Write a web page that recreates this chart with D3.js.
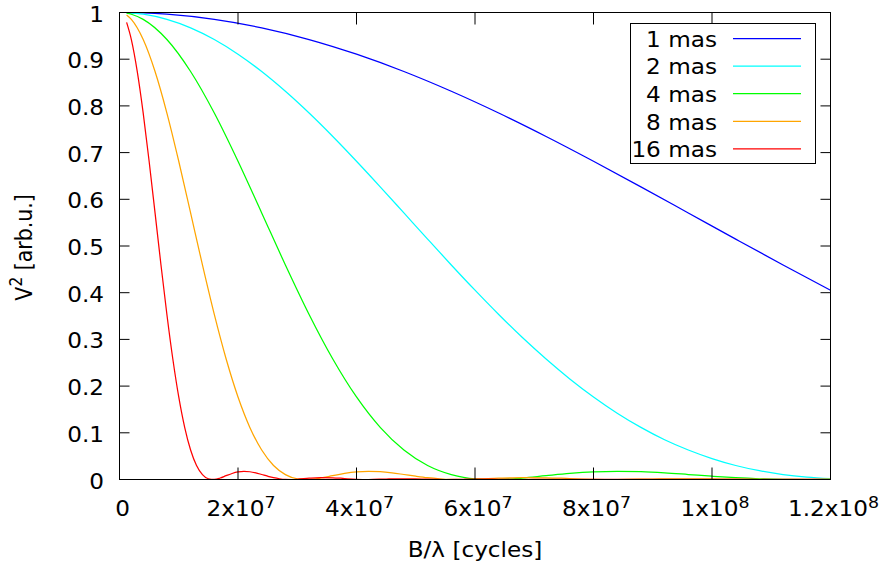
<!DOCTYPE html>
<html>
<head>
<meta charset="utf-8">
<script src="https://cdn.jsdelivr.net/npm/d3@7"></script>
<style>
  body { margin: 0; background: #fff; }
  text { font-family: "DejaVu Sans", sans-serif; fill: #000; }
</style>
</head>
<body>
<div id="chart"></div>
<script>
// Squared visibility vs baseline, uniform disks of different diameter
// baselines are in cycles (B/lambda), values are V^2 read off the plot

const seriesNames = ["1 mas", "2 mas", "4 mas", "8 mas", "16 mas"];

const blue1mas_B = [1.2e6, 4e6, 8e6, 16e6, 24e6, 32e6, 40e6, 48e6, 56e6, 64e6, 72e6, 80e6, 88e6, 96e6, 104e6, 112e6, 120e6];
const blue1mas_V2 = [0.9999, 0.9991, 0.9963, 0.9852, 0.9671, 0.9421, 0.9107, 0.8736, 0.8313, 0.7847, 0.7345, 0.6815, 0.6267, 0.5708, 0.5148, 0.4594, 0.4054];

const cyan2mas_B = [1.2e6, 4e6, 8e6, 12e6, 16e6, 20e6, 24e6, 28e6, 32e6, 36e6, 40e6, 44e6, 48e6, 52e6, 56e6, 60e6,
  64e6, 68e6, 72e6, 76e6, 80e6, 84e6, 88e6, 92e6, 96e6, 100e6, 104e6, 108e6, 112e6, 116e6, 120e6];
const cyan2mas_V2 = [0.9997, 0.9963, 0.9852, 0.9671, 0.9421, 0.9107, 0.8736, 0.8313, 0.7847, 0.7345, 0.6815, 0.6267, 0.5708, 0.5148, 0.4594, 0.4054,
  0.3534, 0.3039, 0.2580, 0.2154, 0.1767, 0.1420, 0.1116, 0.0851, 0.0631, 0.0448, 0.0300, 0.0188, 0.0105, 0.0050, 0.0016];

const green4mas_B = [1.2e6, 2e6, 4e6, 8e6, 12e6, 16e6, 20e6, 24e6, 28e6, 32e6, 36e6, 40e6, 44e6, 48e6, 52e6, 56e6, 60e6,
  64e6, 68e6, 72e6, 76e6, 80e6, 84e6, 88e6, 92e6, 96e6, 100e6, 104e6, 108e6, 112e6, 116e6, 120e6];
const green4mas_V2 = [0.9987, 0.9963, 0.9852, 0.9421, 0.8736, 0.7847, 0.6815, 0.5708, 0.4594, 0.3534, 0.2580, 0.1767, 0.1116, 0.0631, 0.0300, 0.0105, 0.0016,
  0.0002, 0.0032, 0.0082, 0.0129, 0.0161, 0.0173, 0.0166, 0.0142, 0.0107, 0.0071, 0.0039, 0.0016, 0.0003, 0.0000, 0.0005];

const orange8mas_B = [1.2e6, 2e6, 4e6, 6e6, 8e6, 10e6, 12e6, 14e6, 16e6, 18e6, 20e6, 22e6, 24e6, 26e6, 28e6, 30e6,
  32e6, 34e6, 36e6, 38e6, 40e6, 42e6, 44e6, 46e6, 48e6, 50e6, 52e6, 54e6, 56e6, 58e6, 60e6,
  64e6, 68e6, 72e6, 76e6, 80e6, 84e6, 90e6, 96e6, 102e6, 110e6, 116e6, 120e6];
const orange8mas_V2 = [0.9947, 0.9852, 0.9421, 0.8736, 0.7847, 0.6815, 0.5708, 0.4594, 0.3534, 0.2580, 0.1767, 0.1116, 0.0631, 0.0300, 0.0105, 0.0016,
  0.0002, 0.0032, 0.0082, 0.0129, 0.0161, 0.0173, 0.0166, 0.0142, 0.0107, 0.0071, 0.0039, 0.0016, 0.0003, 0.0000, 0.0005,
  0.0027, 0.0040, 0.0037, 0.0020, 0.0005, 0.0000, 0.0010, 0.0016, 0.0008, 0.0000, 0.0005, 0.0007];

const red16mas_B = [1.2e6, 2e6, 3e6, 4e6, 5e6, 6e6, 7e6, 8e6, 9e6, 10e6, 11e6, 12e6, 13e6, 14e6, 15e6, 16e6,
  17e6, 18e6, 19e6, 20e6, 21e6, 22e6, 23e6, 24e6, 25e6, 26e6, 27e6, 28e6, 29e6, 30e6,
  32e6, 34e6, 36e6, 38e6, 40e6, 42e6, 45e6, 48e6, 51e6, 55e6, 58e6, 61e6, 64e6, 68e6, 72e6,
  78e6, 84e6, 90e6, 96e6, 102e6, 108e6, 114e6, 120e6];
const red16mas_V2 = [0.9788, 0.9421, 0.8736, 0.7847, 0.6815, 0.5708, 0.4594, 0.3534, 0.2580, 0.1767, 0.1116, 0.0631, 0.0300, 0.0105, 0.0016, 0.0002,
  0.0032, 0.0082, 0.0129, 0.0161, 0.0173, 0.0166, 0.0142, 0.0107, 0.0071, 0.0039, 0.0016, 0.0003, 0.0000, 0.0005,
  0.0027, 0.0040, 0.0037, 0.0020, 0.0005, 0.0000, 0.0010, 0.0016, 0.0008, 0.0000, 0.0005, 0.0008, 0.0004, 0.0000, 0.0004,
  0.0001, 0.0001, 0.0001, 0.0001, 0.0001, 0.0000, 0.0001, 0.0000];

const xTicks = [0, 2e7, 4e7, 6e7, 8e7, 1e8, 1.2e8];
const xTickBase = ["0", "2x10", "4x10", "6x10", "8x10", "1x10", "1.2x10"];
const xTickExp = ["", "7", "7", "7", "7", "8", "8"];
const yTicks = [0, 0.1, 0.2, 0.3, 0.4, 0.5, 0.6, 0.7, 0.8, 0.9, 1];
const yTickLabels = ["0", "0.1", "0.2", "0.3", "0.4", "0.5", "0.6", "0.7", "0.8", "0.9", "1"];

// styles
const lineColors = ["#0000ff", "#00ffff", "#00ff00", "#ffa500", "#ff0000"];
const FONT = 20.5;
const STRETCH = 1.13;   // the original glyphs are a bit wider than DejaVu

const allSeries = [
  { B: blue1mas_B, V2: blue1mas_V2 },
  { B: cyan2mas_B, V2: cyan2mas_V2 },
  { B: green4mas_B, V2: green4mas_V2 },
  { B: orange8mas_B, V2: orange8mas_V2 },
  { B: red16mas_B, V2: red16mas_V2 }
];

const width = 883, height = 566;
const plot = { left: 119.5, right: 830.5, top: 12.5, bottom: 479.5 };

const svg = d3.select("#chart").append("svg")
  .attr("width", width)
  .attr("height", height);

const x = d3.scaleLinear().domain([0, 1.2e8]).range([plot.left, plot.right]);
const y = d3.scaleLinear().domain([0, 1]).range([plot.bottom, plot.top]);

svg.append("clipPath").attr("id", "plotclip")
  .append("rect")
  .attr("x", plot.left).attr("y", plot.top)
  .attr("width", plot.right - plot.left).attr("height", plot.bottom - plot.top);

// curves
const line = d3.line()
  .x(d => x(d[0]))
  .y(d => y(d[1]))
  .curve(d3.curveMonotoneX);

const curves = svg.append("g").attr("clip-path", "url(#plotclip)");
allSeries.forEach((s, i) => {
  const pts = s.B.map((b, j) => [b, s.V2[j]]);
  curves.append("path")
    .datum(pts)
    .attr("fill", "none")
    .attr("stroke", lineColors[i])
    .attr("stroke-width", 1.25)
    .attr("d", line);
});

// axes, gnuplot style: inward ticks mirrored on all four sides
function styleAxis(g) {
  g.select(".domain").remove();
  g.attr("font-size", FONT).attr("font-family", null).attr("color", "#000");
}

const gx = svg.append("g")
  .attr("transform", `translate(0,${plot.bottom})`)
  .call(d3.axisBottom(x).tickValues(xTicks).tickFormat((d, i) => xTickBase[i])
    .tickSizeInner(-12).tickSizeOuter(0).offset(0))
  .call(styleAxis);

gx.selectAll(".tick text")
  .attr("x", 3 / STRETCH)
  .attr("y", 37).attr("dy", 0)
  .attr("transform", `scale(${STRETCH},1)`)
  .each(function (d, i) {
    if (xTickExp[i]) {
      d3.select(this).append("tspan")
        .attr("dy", -8)
        .attr("font-size", FONT * 0.75)
        .text(xTickExp[i]);
    }
  });

svg.append("g")
  .attr("transform", `translate(0,${plot.top})`)
  .call(d3.axisTop(x).tickValues(xTicks).tickFormat("")
    .tickSizeInner(-12).tickSizeOuter(0).offset(0))
  .call(styleAxis);

const gy = svg.append("g")
  .attr("transform", `translate(${plot.left},0)`)
  .call(d3.axisLeft(y).tickValues(yTicks).tickFormat((d, i) => yTickLabels[i])
    .tickSizeInner(-10).tickSizeOuter(0).tickPadding(13.7).offset(0))
  .call(styleAxis);

gy.selectAll(".tick text")
  .attr("dy", "0.44em")
  .attr("transform", `scale(${STRETCH},1)`);

svg.append("g")
  .attr("transform", `translate(${plot.right},0)`)
  .call(d3.axisRight(y).tickValues(yTicks).tickFormat("")
    .tickSizeInner(-10).tickSizeOuter(0).offset(0))
  .call(styleAxis);

// border
svg.append("rect")
  .attr("x", plot.left).attr("y", plot.top)
  .attr("width", plot.right - plot.left).attr("height", plot.bottom - plot.top)
  .attr("fill", "none").attr("stroke", "#000").attr("stroke-width", 1);

// axis titles
const xTitle = svg.append("text")
  .attr("transform", `translate(${(plot.left + plot.right) / 2},556.5) scale(${STRETCH},1)`)
  .attr("text-anchor", "middle")
  .attr("font-size", FONT);
xTitle.text("B/λ [cycles]");

const yTitle = svg.append("text")
  .attr("transform", `translate(31.5,247.5) scale(${STRETCH},1) rotate(-90)`)
  .attr("text-anchor", "middle")
  .attr("font-size", FONT);
yTitle.append("tspan").text("V");
yTitle.append("tspan").attr("dy", -8).attr("font-size", FONT * 0.75).text("2");
yTitle.append("tspan").attr("dy", 8).text(" [arb.u.]");

// legend (opaque box, top right)
const legend = svg.append("g");
legend.append("rect")
  .attr("x", 630.5).attr("y", 23.5)
  .attr("width", 185).attr("height", 140)
  .attr("fill", "#fff").attr("stroke", "#000").attr("stroke-width", 1);

seriesNames.forEach((name, i) => {
  const ry = 38.5 + i * 27.6;
  legend.append("text")
    .attr("transform", `translate(717,${ry + 8.2}) scale(${STRETCH},1)`)
    .attr("text-anchor", "end")
    .attr("font-size", FONT)
    .text(name);
  legend.append("line")
    .attr("x1", 733).attr("x2", 801)
    .attr("y1", ry).attr("y2", ry)
    .attr("stroke", lineColors[i])
    .attr("stroke-width", 1.25);
});
</script>
</body>
</html>
